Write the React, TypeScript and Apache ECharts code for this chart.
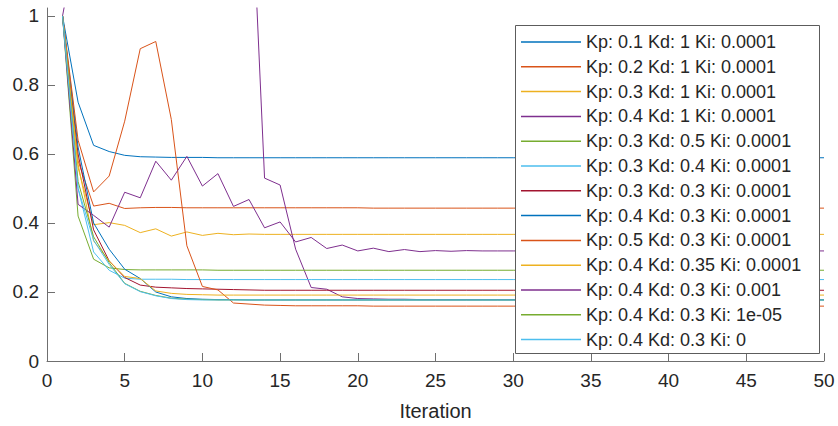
import React, { useEffect, useRef } from "react";
import * as echarts from "echarts";

const iterations: number[] = Array.from({ length: 50 }, (_, i) => i + 1);

const seriesNames: string[] = [
  "Kp: 0.1 Kd: 1 Ki: 0.0001",
  "Kp: 0.2 Kd: 1 Ki: 0.0001",
  "Kp: 0.3 Kd: 1 Ki: 0.0001",
  "Kp: 0.4 Kd: 1 Ki: 0.0001",
  "Kp: 0.3 Kd: 0.5 Ki: 0.0001",
  "Kp: 0.3 Kd: 0.4 Ki: 0.0001",
  "Kp: 0.3 Kd: 0.3 Ki: 0.0001",
  "Kp: 0.4 Kd: 0.3 Ki: 0.0001",
  "Kp: 0.5 Kd: 0.3 Ki: 0.0001",
  "Kp: 0.4 Kd: 0.35 Ki: 0.0001",
  "Kp: 0.4 Kd: 0.3 Ki: 0.001",
  "Kp: 0.4 Kd: 0.3 Ki: 1e-05",
  "Kp: 0.4 Kd: 0.3 Ki: 0",
];

const colors: string[] = [
  "#0072BD", "#D95319", "#EDB120", "#7E2F8E", "#77AC30", "#4DBEEE", "#A2142F",
  "#0072BD", "#D95319", "#EDB120", "#7E2F8E", "#77AC30", "#4DBEEE",
];

const s1 = [1, 0.75, 0.625, 0.607, 0.596, 0.592, 0.591, 0.59, 0.59, 0.59,
  0.589, 0.589, 0.589, 0.589, 0.589, 0.589, 0.589, 0.589, 0.589, 0.589,
  0.589, 0.589, 0.589, 0.589, 0.589, 0.589, 0.589, 0.589, 0.589, 0.589,
  0.589, 0.589, 0.589, 0.589, 0.589, 0.589, 0.589, 0.589, 0.589, 0.589,
  0.589, 0.589, 0.589, 0.589, 0.589, 0.589, 0.589, 0.589, 0.589, 0.589];
const s2 = [1, 0.58, 0.449, 0.457, 0.442, 0.444, 0.445, 0.445, 0.444, 0.444,
  0.444, 0.444, 0.444, 0.444, 0.444, 0.444, 0.444, 0.444, 0.444, 0.444,
  0.443, 0.443, 0.443, 0.443, 0.443, 0.443, 0.443, 0.443, 0.443, 0.443,
  0.443, 0.443, 0.443, 0.443, 0.443, 0.443, 0.443, 0.443, 0.443, 0.443,
  0.443, 0.443, 0.443, 0.443, 0.443, 0.443, 0.443, 0.443, 0.443, 0.443];
const s3 = [1, 0.56, 0.395, 0.401, 0.393, 0.372, 0.383, 0.362, 0.374, 0.364,
  0.37, 0.366, 0.368, 0.367, 0.367, 0.367, 0.367, 0.367, 0.367, 0.367,
  0.367, 0.367, 0.367, 0.367, 0.367, 0.367, 0.367, 0.367, 0.367, 0.367,
  0.367, 0.367, 0.367, 0.367, 0.367, 0.367, 0.367, 0.367, 0.367, 0.367,
  0.367, 0.367, 0.367, 0.367, 0.367, 0.367, 0.367, 0.367, 0.367, 0.367];
const s4 = [1, 1.24, 1.45, 1.6, 1.7, 1.75, 1.75, 1.72, 1.68, 1.63,
  1.58, 1.55, 1.535, 0.53, 0.51, 0.324, 0.213, 0.208, 0.186, 0.181,
  0.18, 0.179, 0.179, 0.178, 0.178, 0.178, 0.178, 0.178, 0.178, 0.178,
  0.178, 0.178, 0.178, 0.178, 0.178, 0.178, 0.178, 0.178, 0.178, 0.178,
  0.178, 0.178, 0.178, 0.178, 0.178, 0.178, 0.178, 0.178, 0.178, 0.178];
const s5 = [1, 0.42, 0.295, 0.27, 0.265, 0.264, 0.264, 0.264, 0.264, 0.264,
  0.263, 0.263, 0.263, 0.263, 0.263, 0.263, 0.263, 0.263, 0.263, 0.263,
  0.263, 0.263, 0.263, 0.263, 0.263, 0.263, 0.263, 0.263, 0.263, 0.263,
  0.263, 0.263, 0.263, 0.263, 0.263, 0.263, 0.263, 0.263, 0.263, 0.263,
  0.263, 0.263, 0.263, 0.263, 0.263, 0.263, 0.263, 0.263, 0.263, 0.263];
const s6 = [1, 0.5, 0.316, 0.263, 0.24, 0.237, 0.237, 0.237, 0.236, 0.236,
  0.236, 0.236, 0.236, 0.236, 0.236, 0.236, 0.236, 0.236, 0.236, 0.236,
  0.236, 0.236, 0.236, 0.236, 0.236, 0.236, 0.236, 0.236, 0.236, 0.236,
  0.236, 0.236, 0.236, 0.236, 0.236, 0.236, 0.236, 0.236, 0.236, 0.236,
  0.236, 0.236, 0.236, 0.236, 0.236, 0.236, 0.236, 0.236, 0.236, 0.236];
const s7 = [1, 0.6, 0.38, 0.29, 0.242, 0.22, 0.214, 0.212, 0.21, 0.209,
  0.208, 0.207, 0.206, 0.205, 0.205, 0.205, 0.205, 0.205, 0.205, 0.205,
  0.205, 0.205, 0.205, 0.205, 0.205, 0.205, 0.205, 0.205, 0.205, 0.205,
  0.205, 0.205, 0.205, 0.205, 0.205, 0.205, 0.205, 0.205, 0.205, 0.205,
  0.205, 0.205, 0.205, 0.205, 0.205, 0.205, 0.205, 0.205, 0.205, 0.205];
const s8 = [1, 0.62, 0.4, 0.324, 0.266, 0.239, 0.2, 0.186, 0.181, 0.179,
  0.178, 0.178, 0.177, 0.177, 0.177, 0.177, 0.177, 0.177, 0.177, 0.177,
  0.177, 0.177, 0.177, 0.177, 0.177, 0.177, 0.177, 0.177, 0.177, 0.177,
  0.177, 0.177, 0.177, 0.177, 0.177, 0.177, 0.177, 0.177, 0.177, 0.177,
  0.177, 0.177, 0.177, 0.177, 0.177, 0.177, 0.177, 0.177, 0.177, 0.177];
const s9 = [1, 0.64, 0.49, 0.536, 0.695, 0.905, 0.926, 0.7, 0.334, 0.216,
  0.206, 0.168, 0.165, 0.162, 0.161, 0.16, 0.16, 0.16, 0.16, 0.16,
  0.159, 0.159, 0.159, 0.159, 0.159, 0.159, 0.159, 0.159, 0.159, 0.159,
  0.159, 0.159, 0.159, 0.159, 0.159, 0.159, 0.159, 0.159, 0.159, 0.159,
  0.159, 0.159, 0.159, 0.159, 0.159, 0.159, 0.159, 0.159, 0.159, 0.159];
const s10 = [1, 0.57, 0.348, 0.29, 0.245, 0.239, 0.203, 0.196, 0.193, 0.192,
  0.191, 0.191, 0.191, 0.191, 0.191, 0.191, 0.191, 0.191, 0.191, 0.191,
  0.191, 0.191, 0.191, 0.191, 0.191, 0.191, 0.191, 0.191, 0.191, 0.191,
  0.191, 0.191, 0.191, 0.191, 0.191, 0.191, 0.191, 0.191, 0.191, 0.191,
  0.191, 0.191, 0.191, 0.191, 0.191, 0.191, 0.191, 0.191, 0.191, 0.191];
const s11 = [1, 0.454, 0.422, 0.388, 0.489, 0.473, 0.579, 0.524, 0.593, 0.507,
  0.543, 0.448, 0.468, 0.386, 0.403, 0.345, 0.358, 0.326, 0.336, 0.319,
  0.327, 0.317, 0.323, 0.317, 0.32, 0.318, 0.32, 0.319, 0.319, 0.319,
  0.319, 0.319, 0.319, 0.319, 0.319, 0.319, 0.319, 0.319, 0.319, 0.319,
  0.319, 0.319, 0.319, 0.319, 0.319, 0.319, 0.319, 0.319, 0.319, 0.319];
const s12 = [1, 0.52, 0.36, 0.285, 0.225, 0.202, 0.19, 0.182, 0.179, 0.178,
  0.177, 0.177, 0.177, 0.177, 0.177, 0.177, 0.177, 0.177, 0.177, 0.177,
  0.177, 0.177, 0.177, 0.177, 0.177, 0.177, 0.177, 0.177, 0.177, 0.177,
  0.177, 0.177, 0.177, 0.177, 0.177, 0.177, 0.177, 0.177, 0.177, 0.177,
  0.177, 0.177, 0.177, 0.177, 0.177, 0.177, 0.177, 0.177, 0.177, 0.177];
const s13 = [1, 0.5, 0.35, 0.28, 0.224, 0.201, 0.189, 0.181, 0.178, 0.177,
  0.177, 0.177, 0.177, 0.177, 0.177, 0.177, 0.177, 0.177, 0.177, 0.177,
  0.177, 0.177, 0.177, 0.177, 0.177, 0.177, 0.177, 0.177, 0.177, 0.177,
  0.177, 0.177, 0.177, 0.177, 0.177, 0.177, 0.177, 0.177, 0.177, 0.177,
  0.177, 0.177, 0.177, 0.177, 0.177, 0.177, 0.177, 0.177, 0.177, 0.177];

const seriesValues: number[][] = [s1, s2, s3, s4, s5, s6, s7, s8, s9, s10, s11, s12, s13];

const xTicks: number[] = [0, 5, 10, 15, 20, 25, 30, 35, 40, 45, 50];
const yTicks: number[] = [0, 0.2, 0.4, 0.6, 0.8, 1];

const FONT = "'Liberation Sans', Arial, Helvetica, sans-serif";
const TEXT = "#262626";
const AXIS = "#6f6f6f";

export default function App() {
  const ref = useRef<HTMLDivElement>(null);

  useEffect(() => {
    if (!ref.current) return;
    const chart = echarts.init(ref.current, undefined, { renderer: "svg" });
    const option: any = {
      animation: false,
      backgroundColor: "#ffffff",
      grid: { left: 47, right: 14, top: 8, bottom: 64 },
      xAxis: {
        type: "value",
        min: 0,
        max: 50,
        interval: 5,
        name: "Iteration",
        nameLocation: "middle",
        nameGap: 40,
        nameTextStyle: { fontSize: 20, color: TEXT, fontFamily: FONT },
        axisLine: { show: true, onZero: false, lineStyle: { color: AXIS, width: 1 } },
        axisTick: { show: true, inside: true, length: 8, lineStyle: { color: AXIS }, customValues: xTicks },
        axisLabel: { fontSize: 19, color: TEXT, fontFamily: FONT, margin: 10, customValues: xTicks },
        splitLine: { show: false },
      },
      yAxis: {
        type: "value",
        min: 0,
        max: 1.023,
        axisLine: { show: true, onZero: false, lineStyle: { color: AXIS, width: 1 } },
        axisTick: { show: true, inside: true, length: 8, lineStyle: { color: AXIS }, customValues: yTicks },
        axisLabel: { fontSize: 19, color: TEXT, fontFamily: FONT, margin: 8, customValues: yTicks },
        splitLine: { show: false },
      },
      legend: {
        orient: "vertical",
        left: 521,
        top: 33,
        padding: 0,
        itemWidth: 60,
        itemHeight: 1.5,
        itemGap: 6.8,
        icon: "rect",
        z: 5,
        textStyle: { fontSize: 18, lineHeight: 18, color: TEXT, fontFamily: FONT },
        data: seriesNames,
      },
      graphic: [
        {
          type: "rect",
          z: 3,
          shape: { x: 515.5, y: 25.5, width: 304, height: 328 },
          style: { fill: "#ffffff", stroke: "#5c5c5c", lineWidth: 1 },
        },
      ],
      series: seriesNames.map((name, i) => ({
        name,
        type: "line",
        data: iterations.map((x, j) => [x, seriesValues[i][j]]),
        showSymbol: false,
        symbol: "none",
        clip: true,
        color: colors[i],
        lineStyle: { color: colors[i], width: 1 },
        z: 2,
      })),
    };
    chart.setOption(option);
    return () => chart.dispose();
  }, []);

  return (
    <div
      ref={ref}
      style={{ position: "fixed", left: 0, top: 0, width: 838, height: 426, background: "#fff" }}
    />
  );
}
